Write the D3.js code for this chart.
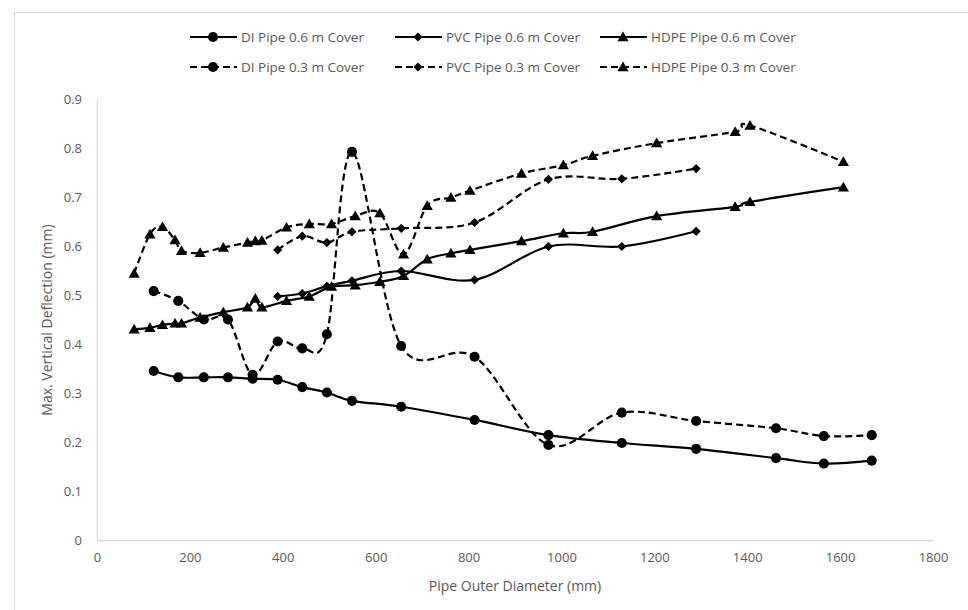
<!DOCTYPE html>
<html>
<head>
<meta charset="utf-8">
<script src="https://cdn.jsdelivr.net/npm/d3@7"></script>
<style>
  body { margin: 0; background: #fff; }
  svg { display: block; font-family: "Open Sans", "Noto Sans", sans-serif; }
</style>
</head>
<body>
<svg id="chart" width="968" height="610"></svg>
<script>
'use strict';

// pipe outer diameters (mm)
var diX = [122, 175, 230, 282, 335, 389, 442, 495, 549, 655, 813, 972, 1130, 1290, 1462, 1565, 1668];
var pvcX = [389, 442, 495, 549, 655, 813, 972, 1130, 1290];
var hdpeX = [80, 114, 141, 168, 182, 222, 272, 324, 341, 355, 408, 457, 505, 556, 609, 660, 711, 762, 803, 914, 1004, 1067, 1205, 1374, 1406, 1607];

// max. vertical deflection (mm)
var di06 = [0.345, 0.332, 0.332, 0.332, 0.329, 0.327, 0.312, 0.301, 0.284, 0.272, 0.245, 0.214, 0.198, 0.186, 0.167, 0.156, 0.162];
var pvc06 = [0.497, 0.503, 0.518, 0.529, 0.549, 0.531, 0.599, 0.599, 0.630];
var hdpe06 = [0.430, 0.433, 0.439, 0.442, 0.442, 0.454, 0.465, 0.475, 0.493, 0.475, 0.488, 0.497, 0.517, 0.520, 0.527, 0.539, 0.573, 0.585, 0.592, 0.610, 0.626, 0.629, 0.661, 0.680, 0.690, 0.720];
var di03 = [0.508, 0.488, 0.450, 0.450, 0.337, 0.405, 0.391, 0.420, 0.792, 0.396, 0.374, 0.194, 0.260, 0.243, 0.228, 0.212, 0.214];
var pvc03 = [0.592, 0.620, 0.607, 0.629, 0.636, 0.648, 0.736, 0.737, 0.758];
var hdpe03 = [0.544, 0.624, 0.639, 0.612, 0.590, 0.586, 0.597, 0.607, 0.610, 0.611, 0.638, 0.645, 0.645, 0.661, 0.667, 0.583, 0.682, 0.699, 0.713, 0.748, 0.765, 0.784, 0.810, 0.833, 0.846, 0.772];

var seriesNames = ['DI Pipe 0.6 m Cover', 'PVC Pipe 0.6 m Cover', 'HDPE Pipe 0.6 m Cover',
  'DI Pipe 0.3 m Cover', 'PVC Pipe 0.3 m Cover', 'HDPE Pipe 0.3 m Cover'];
var xTicks = [0, 200, 400, 600, 800, 1000, 1200, 1400, 1600, 1800];
var yTicks = [0, 0.1, 0.2, 0.3, 0.4, 0.5, 0.6, 0.7, 0.8, 0.9];

var series = [
  { name: seriesNames[0], xs: diX, ys: di06, marker: 'circle', dashed: false },
  { name: seriesNames[1], xs: pvcX, ys: pvc06, marker: 'diamond', dashed: false },
  { name: seriesNames[2], xs: hdpeX, ys: hdpe06, marker: 'triangle', dashed: false },
  { name: seriesNames[3], xs: diX, ys: di03, marker: 'circle', dashed: true },
  { name: seriesNames[4], xs: pvcX, ys: pvc03, marker: 'diamond', dashed: true },
  { name: seriesNames[5], xs: hdpeX, ys: hdpe03, marker: 'triangle', dashed: true }
];

var svg = d3.select('#chart');
var textColor = '#595959',
  axisColor = '#d9d9d9';

// chart area border
svg.append('rect')
  .attr('x', 14.5).attr('y', 12.5)
  .attr('width', 1000).attr('height', 700)
  .attr('fill', 'none')
  .attr('stroke', axisColor);

var x = d3.scaleLinear().domain([0, 1800]).range([97, 933]);
var y = d3.scaleLinear().domain([0, 0.9]).range([540, 99]);

// axes
var xAxis = svg.append('g')
  .attr('transform', 'translate(0,540)')
  .call(d3.axisBottom(x).tickValues(xTicks).tickSize(0).tickPadding(13).tickFormat(d3.format('d')));
var yAxis = svg.append('g')
  .attr('transform', 'translate(97,0)')
  .call(d3.axisLeft(y).tickValues(yTicks).tickSize(0).tickPadding(15).tickFormat(function (d) { return d === 0 ? '0' : d3.format('.1f')(d); }));

[xAxis, yAxis].forEach(function (ax) {
  ax.select('.domain').attr('stroke', axisColor).attr('stroke-width', 1.3);
  ax.selectAll('text')
    .attr('fill', textColor)
    .style('font-size', '13px')
    .style('font-family', '"Open Sans", sans-serif');
});

// axis titles
svg.append('text')
  .attr('x', 515).attr('y', 591)
  .attr('text-anchor', 'middle')
  .attr('fill', textColor)
  .style('font-size', '14px')
  .text('Pipe Outer Diameter (mm)');

svg.append('text')
  .attr('transform', 'translate(52,320) rotate(-90)')
  .attr('text-anchor', 'middle')
  .attr('fill', textColor)
  .style('font-size', '14px')
  .text('Max. Vertical Deflection (mm)');

function markerPath(type) {
  if (type === 'circle') {
    return d3.symbol(d3.symbolCircle, 80)();
  }
  if (type === 'diamond') {
    return 'M0,-4.6L4.6,0L0,4.6L-4.6,0Z';
  }
  return 'M0,-5.5L5.6,4.2L-5.6,4.2Z';
}

var line = d3.line()
  .x(function (d) { return x(d[0]); })
  .y(function (d) { return y(d[1]); })
  .curve(d3.curveCardinal.tension(0));

var plot = svg.append('g');

series.forEach(function (s) {
  var pts = s.xs.map(function (v, i) { return [v, s.ys[i]]; });
  var g = plot.append('g');
  g.append('path')
    .datum(pts)
    .attr('fill', 'none')
    .attr('stroke', '#000')
    .attr('stroke-width', 2.2)
    .attr('stroke-dasharray', s.dashed ? '7,4' : null)
    .attr('d', line);
  g.selectAll('.pt')
    .data(pts)
    .enter().append('path')
    .attr('class', 'pt')
    .attr('transform', function (d) { return 'translate(' + x(d[0]) + ',' + y(d[1]) + ')'; })
    .attr('d', markerPath(s.marker))
    .attr('fill', '#000');
});

// legend, two rows of three
var legendCols = [190, 395, 600],
  legendRows = [37, 67];
var legend = svg.append('g');
series.forEach(function (s, i) {
  var lx = legendCols[i % 3],
    ly = legendRows[Math.floor(i / 3)];
  var item = legend.append('g').attr('transform', 'translate(' + lx + ',' + ly + ')');
  item.append('line')
    .attr('x1', 0).attr('x2', 47)
    .attr('y1', 0).attr('y2', 0)
    .attr('stroke', '#000')
    .attr('stroke-width', 2.2)
    .attr('stroke-dasharray', s.dashed ? '7,4' : null);
  item.append('path')
    .attr('transform', 'translate(23,0)')
    .attr('d', markerPath(s.marker))
    .attr('fill', '#000');
  item.append('text')
    .attr('x', 51).attr('y', 0)
    .attr('dy', '0.35em')
    .attr('fill', textColor)
    .style('font-size', '13.5px')
    .text(s.name);
});
</script>
</body>
</html>
